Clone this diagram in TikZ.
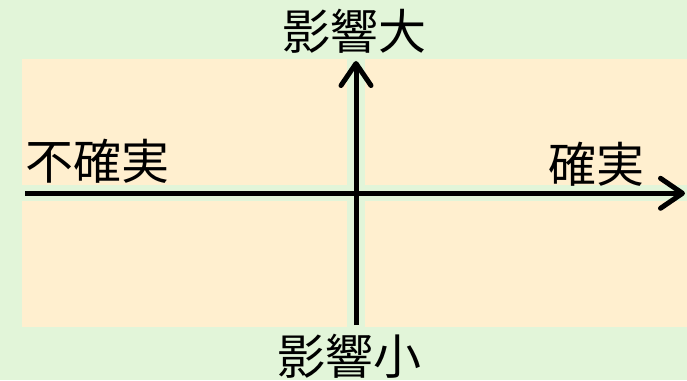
\documentclass[tikz,border=0pt]{standalone}
\usepackage{fontspec}
\newfontfamily\cjk{Noto Sans CJK JP}
\usetikzlibrary{arrows.meta}
\definecolor{bggreen}{HTML}{E2F5D9}
\definecolor{quadpeach}{HTML}{FFEFCF}
\begin{document}
\begin{tikzpicture}[x=1pt,y=1pt,
  lbl/.style={font=\cjk\fontsize{48}{48}\selectfont, inner sep=0pt, anchor=center},
  quad/.style={fill=quadpeach, draw=none},
  axis/.style={line width=5pt, -{Straight Barb[round,length=22pt,width=30pt]}}]
  \fill[bggreen] (0,0) rectangle (687,380);
  \useasboundingbox (0,0) rectangle (687,380);
  % quadrants
  \fill[quad] (22,195) rectangle (346.7,321);
  \fill[quad] (365,195) rectangle (687,321);
  \fill[quad] (22,53) rectangle (346.7,179.3);
  \fill[quad] (365,53) rectangle (687,179.3);
  % axes
  \coordinate (hstart) at (25,186.7);
  \coordinate (hend) at (685,186.7);
  \coordinate (vstart) at (356,55);
  \coordinate (vend) at (356,319);
  \draw[axis] (hstart) -- (hend);
  \draw[axis] (vstart) -- (vend);
  % labels
  \node[lbl] (top) at (354.5,348.5) {影響大};
  \node[lbl] (bottom) at (349,23.5) {影響小};
  \node[lbl] (left) at (97.5,218.5) {不確実};
  \node[lbl] (right) at (596.7,216) {確実};
\end{tikzpicture}
\end{document}
